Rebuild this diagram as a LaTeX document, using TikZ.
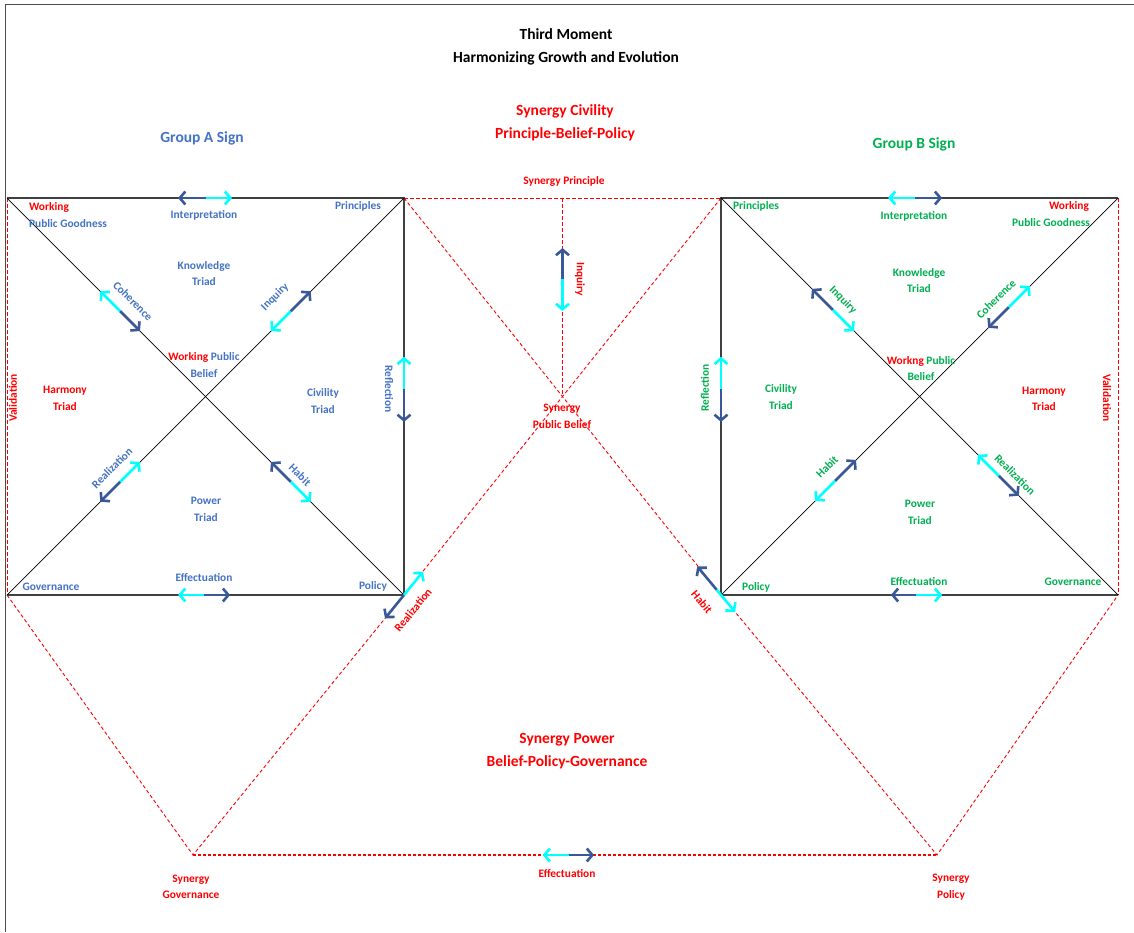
\documentclass[tikz,border=0pt]{standalone}
\usepackage{fontspec}
\setmainfont{Carlito}
\usetikzlibrary{calc}
\usetikzlibrary{arrows.meta}
\definecolor{signA}{HTML}{4472C4}
\definecolor{signB}{HTML}{00B050}
\definecolor{synred}{HTML}{FF0000}
\definecolor{darkarrow}{HTML}{3A5897}
\definecolor{lightarrow}{HTML}{00FFFF}
\tikzset{
	frame/.style={draw=black!70, line width=1pt},
	sidelink/.style={draw=black!75, line width=1.3pt},
	diaglink/.style={draw=black, line width=0.7pt},
	synlink/.style={draw=synred, line width=0.9pt, dash pattern=on 3.5pt off 2.5pt},
	synbase/.style={draw=synred, line width=1.8pt, dash pattern=on 3pt off 2pt},
	halfarrow/.style={line width=2.6pt, -{Straight Barb[length=5.5pt,width=13pt]}},
	cyanhalf/.style={halfarrow, draw=lightarrow},
	bluehalf/.style={halfarrow, draw=darkarrow},
	lbl/.style={font=\fontsize{11.4}{16.5}\selectfont\bfseries, align=center, inner sep=0pt},
	lblA/.style={lbl, text=signA},
	lblB/.style={lbl, text=signB},
	lblR/.style={lbl, text=synred},
	heading/.style={font=\fontsize{15.5}{23}\selectfont\bfseries, align=center, inner sep=0pt},
}
\begin{document}
\begin{tikzpicture}[x=1pt, y=-1pt]
	\useasboundingbox (0,0) rectangle (1134,932);
	% corners
	\coordinate (frame-bl) at (5,932);
	\coordinate (frame-tr) at (1134,4);
	\coordinate (A-tl) at (7,198);
	\coordinate (A-tr) at (404,198);
	\coordinate (A-bl) at (7,595);
	\coordinate (A-br) at (404,595);
	\coordinate (B-tl) at (721,198);
	\coordinate (B-tr) at (1118,198);
	\coordinate (B-bl) at (721,595);
	\coordinate (B-br) at (1118,595);
	\coordinate (S-pri) at (562.5,198);
	\coordinate (S-bel) at (562.5,396.5);
	\coordinate (S-gov) at (193,855);
	\coordinate (S-pol) at (937,855);

	\draw[frame] (frame-bl) |- (frame-tr);

	% synergy lines
	\draw[synlink] (A-tl) -- (A-bl);
	\draw[synlink] (B-tr) -- (B-br);
	\draw[synlink] (A-tr) -- (B-tl);
	\draw[synlink] (S-pri) -- (S-bel);
	\draw[synlink] (A-tr) -- (B-bl);
	\draw[synlink] (B-tl) -- (A-br);
	\draw[synlink] (A-bl) -- (S-gov) -- (A-br);
	\draw[synlink] (B-bl) -- (S-pol) -- (B-br);
	\draw[synbase] (S-gov) -- (S-pol);

	% group squares
	\draw[sidelink] (A-tl) -- (A-tr) -- (A-br) -- (A-bl);
	\draw[diaglink] (A-tl) -- (A-br);
	\draw[diaglink] (A-bl) -- (A-tr);
	\draw[sidelink] (B-tr) -- (B-tl) -- (B-bl) -- (B-br);
	\draw[diaglink] (B-tl) -- (B-br);
	\draw[diaglink] (B-bl) -- (B-tr);

	% headings
	\node[heading] (title) at (566,46.5) {Third Moment\\Harmonizing Growth and Evolution};
	\node[heading, text=synred] (syncivility) at (565,123) {Synergy Civility\\Principle-Belief-Policy};
	\node[heading, text=signA] (groupA) at (202,138) {Group A Sign};
	\node[heading, text=signB] (groupB) at (914,144) {Group B Sign};
	\node[heading, text=synred] (synpower) at (567,751.5) {Synergy Power\\Belief-Policy-Governance};

	% group A
	\node[lblR] (A-working) at (49,207) {Working};
	\node[lblA] (A-goodness) at (68,224) {Public Goodness};
	\node[lblA] (A-interp) at (204,215) {Interpretation};
	\node[lblA] (A-principles) at (358,206) {Principles};
	\node[lblA] (A-knowledge) at (204,273.5) {Knowledge\\Triad};
	\node[lblA, rotate=-45] (A-coherence) at (133,301) {Coherence};
	\node[lblA, rotate=45] (A-inquiry) at (275,297) {Inquiry};
	\node[lblA] (A-belief) at (204,365) {\textcolor{synred}{Working} Public\\Belief};
	\node[lblR] (A-harmony) at (65,398.5) {Harmony\\Triad};
	\node[lblA] (A-civility) at (323,401) {Civility\\Triad};
	\node[lblA, rotate=-90] (A-reflection) at (389,389) {Reflection};
	\node[lblR, rotate=90] (A-validation) at (13,398) {Validation};
	\node[lblA, rotate=45] (A-realization) at (112,468) {Realization};
	\node[lblA, rotate=-45] (A-habit) at (300,475) {Habit};
	\node[lblA] (A-power) at (206,509.5) {Power\\Triad};
	\node[lblA] (A-governance) at (51,587) {Governance};
	\node[lblA] (A-effect) at (204,578) {Effectuation};
	\node[lblA] (A-policy) at (373,586) {Policy};

	% synergy
	\node[lblR] (S-principle) at (564,181) {Synergy Principle};
	\node[lblR, rotate=-90] (S-inquiry) at (580,279) {Inquiry};
	\node[lblR] (S-belieflbl) at (562,416.5) {Synergy\\Public Belief};
	\node[lblR, rotate=51] (S-realization) at (413,610) {Realization};
	\node[lblR, rotate=-50] (S-habit) at (702,602) {Habit};
	\node[lblR] (S-effect) at (567,874) {Effectuation};
	\node[lblR] (S-govlbl) at (191,887) {Synergy\\Governance};
	\node[lblR] (S-pollbl) at (951,887) {Synergy\\Policy};

	% group B
	\node[lblB] (B-principles) at (756,206) {Principles};
	\node[lblB] (B-interp) at (914,216) {Interpretation};
	\node[lblR] (B-working) at (1069,206) {Working};
	\node[lblB] (B-goodness) at (1051,223) {Public Goodness};
	\node[lblB] (B-knowledge) at (919,280.5) {Knowledge\\Triad};
	\node[lblB, rotate=-45] (B-inquiry) at (843,300) {Inquiry};
	\node[lblB, rotate=45] (B-coherence) at (996,299) {Coherence};
	\node[lblB] (B-belief) at (921,368.5) {\textcolor{synred}{Workng} Public\\Belief};
	\node[lblB] (B-civility) at (781,397) {Civility\\Triad};
	\node[lblR] (B-harmony) at (1044,399) {Harmony\\Triad};
	\node[lblB, rotate=90] (B-reflection) at (705,388) {Reflection};
	\node[lblR, rotate=-90] (B-validation) at (1107,398) {Validation};
	\node[lblB, rotate=45] (B-habit) at (827,467) {Habit};
	\node[lblB, rotate=-45] (B-realization) at (1015,475) {Realization};
	\node[lblB] (B-power) at (920,512.5) {Power\\Triad};
	\node[lblB] (B-policy) at (756,587) {Policy};
	\node[lblB] (B-effect) at (919,582) {Effectuation};
	\node[lblB] (B-governance) at (1073,582) {Governance};

	% double arrows, group A
	\draw[bluehalf] ($(A-tl)!0.5!(A-tr)$) -- ($(A-tl)!0.431!(A-tr)$);
	\draw[cyanhalf] ($(A-tl)!0.5!(A-tr)$) -- ($(A-tl)!0.567!(A-tr)$);
	\draw[cyanhalf] ($(A-tl)!0.285!(A-br)$) -- ($(A-tl)!0.235!(A-br)$);
	\draw[bluehalf] ($(A-tl)!0.285!(A-br)$) -- ($(A-tl)!0.335!(A-br)$);
	\draw[cyanhalf] ($(A-bl)!0.715!(A-tr)$) -- ($(A-bl)!0.665!(A-tr)$);
	\draw[bluehalf] ($(A-bl)!0.715!(A-tr)$) -- ($(A-bl)!0.765!(A-tr)$);
	\draw[cyanhalf] ($(A-tr)!0.482!(A-br)$) -- ($(A-tr)!0.40!(A-br)$);
	\draw[bluehalf] ($(A-tr)!0.482!(A-br)$) -- ($(A-tr)!0.564!(A-br)$);
	\draw[bluehalf] ($(A-bl)!0.285!(A-tr)$) -- ($(A-bl)!0.235!(A-tr)$);
	\draw[cyanhalf] ($(A-bl)!0.285!(A-tr)$) -- ($(A-bl)!0.335!(A-tr)$);
	\draw[bluehalf] ($(A-tl)!0.715!(A-br)$) -- ($(A-tl)!0.665!(A-br)$);
	\draw[cyanhalf] ($(A-tl)!0.715!(A-br)$) -- ($(A-tl)!0.765!(A-br)$);
	\draw[cyanhalf] ($(A-bl)!0.496!(A-br)$) -- ($(A-bl)!0.431!(A-br)$);
	\draw[bluehalf] ($(A-bl)!0.496!(A-br)$) -- ($(A-bl)!0.562!(A-br)$);

	% double arrows, synergy
	\draw[bluehalf] (A-br) -- ($(A-br)!0.09!(S-gov)$);
	\draw[cyanhalf] (A-br) -- ($(A-br)!-0.09!(S-gov)$);
	\draw[bluehalf] ($(S-pri)!0.41!(S-bel)$) -- ($(S-pri)!0.252!(S-bel)$);
	\draw[cyanhalf] ($(S-pri)!0.41!(S-bel)$) -- ($(S-pri)!0.569!(S-bel)$);
	\draw[bluehalf] ($(B-bl)!-0.02!(S-pol)$) -- ($(B-bl)!-0.11!(S-pol)$);
	\draw[cyanhalf] ($(B-bl)!-0.02!(S-pol)$) -- ($(B-bl)!0.065!(S-pol)$);
	\draw[cyanhalf] ($(S-gov)!0.505!(S-pol)$) -- ($(S-gov)!0.470!(S-pol)$);
	\draw[bluehalf] ($(S-gov)!0.505!(S-pol)$) -- ($(S-gov)!0.539!(S-pol)$);

	% double arrows, group B
	\draw[cyanhalf] ($(B-tl)!0.489!(B-tr)$) -- ($(B-tl)!0.421!(B-tr)$);
	\draw[bluehalf] ($(B-tl)!0.489!(B-tr)$) -- ($(B-tl)!0.557!(B-tr)$);
	\draw[bluehalf] ($(B-tl)!0.282!(B-br)$) -- ($(B-tl)!0.229!(B-br)$);
	\draw[cyanhalf] ($(B-tl)!0.282!(B-br)$) -- ($(B-tl)!0.335!(B-br)$);
	\draw[bluehalf] ($(B-bl)!0.725!(B-tr)$) -- ($(B-bl)!0.673!(B-tr)$);
	\draw[cyanhalf] ($(B-bl)!0.725!(B-tr)$) -- ($(B-bl)!0.778!(B-tr)$);
	\draw[cyanhalf] ($(B-tl)!0.482!(B-bl)$) -- ($(B-tl)!0.40!(B-bl)$);
	\draw[bluehalf] ($(B-tl)!0.482!(B-bl)$) -- ($(B-tl)!0.564!(B-bl)$);
	\draw[cyanhalf] ($(B-bl)!0.288!(B-tr)$) -- ($(B-bl)!0.237!(B-tr)$);
	\draw[bluehalf] ($(B-bl)!0.288!(B-tr)$) -- ($(B-bl)!0.34!(B-tr)$);
	\draw[cyanhalf] ($(B-tl)!0.70!(B-br)$) -- ($(B-tl)!0.647!(B-br)$);
	\draw[bluehalf] ($(B-tl)!0.70!(B-br)$) -- ($(B-tl)!0.75!(B-br)$);
	\draw[bluehalf] ($(B-bl)!0.49!(B-br)$) -- ($(B-bl)!0.428!(B-br)$);
	\draw[cyanhalf] ($(B-bl)!0.49!(B-br)$) -- ($(B-bl)!0.557!(B-br)$);
\end{tikzpicture}
\end{document}
